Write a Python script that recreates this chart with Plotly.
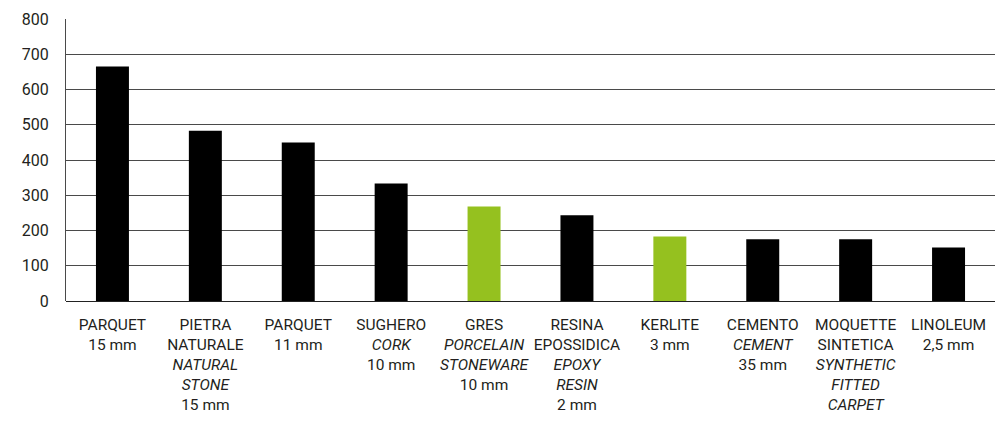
import plotly.graph_objects as go

# Flooring materials and their values
categories = [
    "PARQUET<br>15 mm",
    "PIETRA<br>NATURALE<br><i>NATURAL</i><br><i>STONE</i><br>15 mm",
    "PARQUET<br>11 mm",
    "SUGHERO<br><i>CORK</i><br>10 mm",
    "GRES<br><i>PORCELAIN</i><br><i>STONEWARE</i><br>10 mm",
    "RESINA<br>EPOSSIDICA<br><i>EPOXY</i><br><i>RESIN</i><br>2 mm",
    "KERLITE<br>3 mm",
    "CEMENTO<br><i>CEMENT</i><br>35 mm",
    "MOQUETTE<br>SINTETICA<br><i>SYNTHETIC</i><br><i>FITTED</i><br><i>CARPET</i>",
    "LINOLEUM<br>2,5 mm",
]
values = [665, 483, 450, 333, 268, 243, 183, 175, 175, 152]
highlight = [False, False, False, False, True, False, True, False, False, False]

y_ticks = [0, 100, 200, 300, 400, 500, 600, 700, 800]

GREEN = "#95c11f"
BLACK = "#000000"
TEXT = "#231f20"
colors = [GREEN if h else BLACK for h in highlight]

label_font = "Roboto, sans-serif"

fig = go.Figure(
    go.Bar(
        x=list(range(len(categories))),
        y=values,
        marker=dict(color=colors, line=dict(width=0)),
        width=0.355,
        hoverinfo="skip",
    )
)

fig.update_layout(
    width=995,
    height=422,
    margin=dict(l=66, r=0, t=19, b=121),
    paper_bgcolor="white",
    plot_bgcolor="white",
    showlegend=False,
    font=dict(family=label_font, color=TEXT, size=15.5),
)

fig.update_xaxes(
    tickmode="array",
    tickvals=list(range(len(categories))),
    ticktext=categories,
    range=[-0.5, len(categories) - 0.5],
    showgrid=False,
    showline=False,
    ticks="",
    ticklabelstandoff=12,
    tickfont=dict(size=15.5, family=label_font, color=TEXT),
    tickangle=0,
)

fig.update_yaxes(
    range=[0, 800],
    tickmode="array",
    tickvals=y_ticks,
    showgrid=True,
    gridcolor="#4a4a4a",
    gridwidth=1.3,
    zeroline=True,
    zerolinecolor="#222222",
    zerolinewidth=1.3,
    showline=True,
    linecolor="#4a4a4a",
    linewidth=1.3,
    ticks="",
    ticklabelstandoff=13,
    tickfont=dict(size=16, family=label_font, color=TEXT),
)

fig.write_html("out.html")
